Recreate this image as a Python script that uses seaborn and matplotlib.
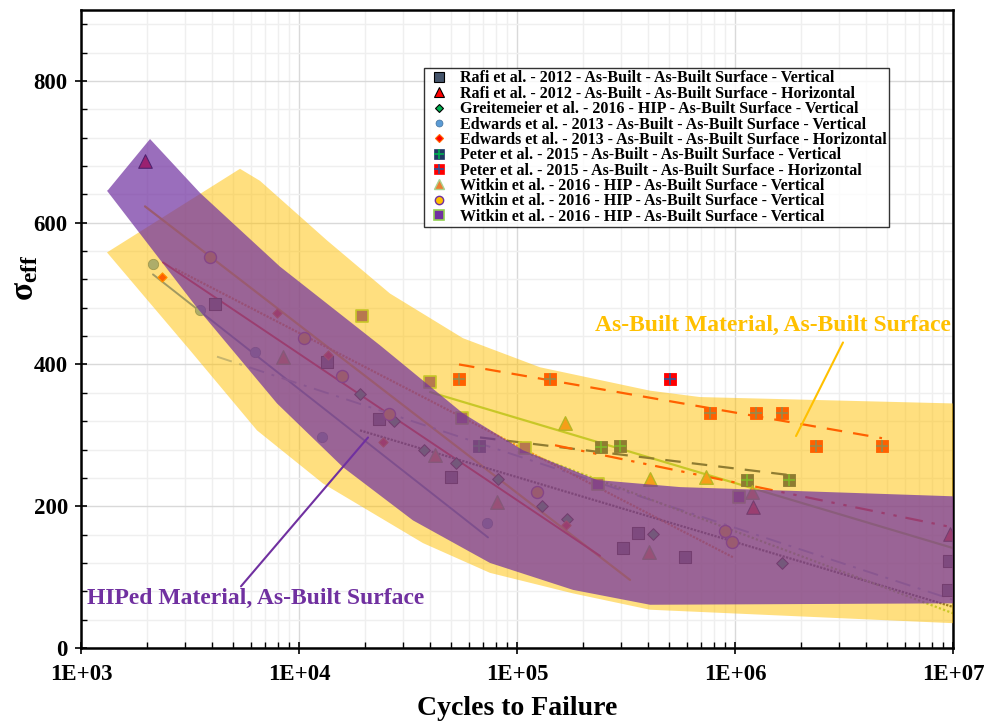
import numpy as np
import matplotlib
matplotlib.use('Agg')
import matplotlib.pyplot as plt
import seaborn as sns
from matplotlib.lines import Line2D
from matplotlib.legend_handler import HandlerTuple
from matplotlib.ticker import LogLocator, MultipleLocator, FuncFormatter, NullFormatter

# ---- data (cycles, effective stress) ----
rafi_v_n = [4120, 13440, 23280, 49800, 306400, 358900, 589700, 9590000, 9490000]
rafi_v_s = [485, 403, 323, 241, 141, 162, 128, 123, 82]
rafi_h_n = [1970, 1209000, 9690000]
rafi_h_s = [687, 199, 161]
greit_n = [19050, 27290, 37450, 52510, 81810, 130200, 169600, 420600, 1643000]
greit_s = [359, 320, 279, 261, 239, 200, 182, 161, 120]
edw_v_n = [2139, 3515, 6284, 12750, 72850]
edw_v_s = [541, 477, 417, 297, 176]
edw_h_n = [2353, 7928, 13590, 24290, 167900]
edw_h_s = [524, 473, 414, 290, 173]
peter_v_n = [66950, 242800, 296900, 1135000, 1769000]
peter_v_s = [285, 283, 285, 237, 237]
peter_h_n = [54190, 141700, 503300, 767800, 1248000, 1643000, 2353000, 4724000]
peter_h_s = [380, 380, 380, 332, 332, 332, 285, 285]
witk_t_n = [8446, 42060, 80970, 166100, 403200, 407500, 736200, 1197000]
witk_t_s = [411, 272, 206, 318, 135, 239, 241, 220]
witk_c_n = [3906, 10543, 15750, 25870, 123500, 899900, 968700]
witk_c_s = [551, 438, 383, 330, 220, 165, 149]
witk_s_n = [19450, 39900, 55940, 108800, 235300, 1043000]
witk_s_s = [469, 375, 325, 282, 231, 213]

# trend lines: (n_start, n_end), (s_start, s_end)
trend_witk_c = ([1966, 329900], [623, 96])
trend_red = ([2377, 240300], [544, 130])
trend_edw_v = ([2139, 73620], [527, 156])
trend_gray = ([19050, 1e7], [307, 58])
trend_blue_dd = ([4206, 1e7], [411, 68])
trend_green_dot = ([111200, 1e7], [275, 49])
trend_brown_dot = ([2699, 979000], [535, 128])
trend_green = ([39900, 1e7], [361, 141])
trend_peter_h = ([54190, 4724000], [400, 296])
trend_peter_v = ([67650, 1769000], [297, 244])
trend_rafi_h = ([149400, 1e7], [286, 170])

# scatter bands (outline: upper edge left->right, then lower edge right->left)
asbuilt_band_n = [1316, 5362, 6624, 13440, 26150, 56530, 127500, 407500, 690900, 1e7,
                  1e7, 407500, 180700, 75170, 37050, 12890, 6416, 3162, 1316]
asbuilt_band_s = [558, 676, 659, 575, 500, 437, 396, 363, 354, 345,
                  35, 54, 77, 106, 148, 232, 307, 420, 558]
hip_band_n = [1330, 2073, 3515, 8180, 23530, 56530, 106500, 232800, 559400, 1e7,
              1e7, 407500, 180700, 75170, 33340, 15920, 7928, 3405, 1316]
hip_band_s = [646, 718, 642, 538, 427, 331, 279, 237, 227, 214,
              63, 61, 82, 120, 180, 255, 345, 480, 645]

legend_labels = [
    'Rafi et al. - 2012 - As-Built - As-Built Surface - Vertical',
    'Rafi et al. - 2012 - As-Built - As-Built Surface - Horizontal',
    'Greitemeier et al. - 2016 - HIP - As-Built Surface - Vertical',
    'Edwards et al. - 2013 - As-Built - As-Built Surface - Vertical',
    'Edwards et al. - 2013 - As-Built - As-Built Surface - Horizontal',
    'Peter et al. - 2015 - As-Built - As-Built Surface - Vertical',
    'Peter et al. - 2015 - As-Built - As-Built Surface - Horizontal',
    'Witkin et al. - 2016 - HIP - As-Built Surface - Vertical',
    'Witkin et al. - 2016 - HIP - As-Built Surface - Vertical',
    'Witkin et al. - 2016 - HIP - As-Built Surface - Vertical',
]

sns.set_theme(style='white')
plt.rcParams['font.family'] = ['Liberation Serif', 'DejaVu Serif']
plt.rcParams['font.weight'] = 'bold'
plt.rcParams['mathtext.default'] = 'regular'
for key in ['text.color', 'axes.labelcolor', 'xtick.color', 'ytick.color']:
    plt.rcParams[key] = 'black'

fig = plt.figure(figsize=(9.85, 7.21), dpi=100)
ax = fig.add_axes([81/985, 1 - 648/721, 872/985, 638/721])

YELLOW = '#FFC000'
PURPLE = '#7030A0'

# ---- trend lines (drawn under the bands) ----
ax.plot(*trend_witk_c, color=YELLOW, lw=1.6, zorder=1)
ax.plot(*trend_red, color='#FF0000', lw=1.4, zorder=1)
ax.plot(*trend_edw_v, color='#4472C4', lw=1.4, zorder=1)
ax.plot(*trend_gray, color='#404040', lw=1.6, ls=(0, (1, 0.6)), zorder=1)
ax.plot(*trend_blue_dd, color='#8FAADC', lw=1.4, ls=(0, (8, 4, 1.5, 4)), zorder=1)
ax.plot(*trend_green_dot, color='#92D050', lw=1.6, ls=(0, (1, 1)), zorder=1)
ax.plot(*trend_brown_dot, color='#ED7D31', lw=1.6, ls=(0, (1, 0.6)), zorder=1)
ax.plot(*trend_green, color='#92D050', lw=1.6, zorder=1)
ax.plot(*trend_peter_h, color='#FF0000', lw=1.6, ls=(0, (7, 5)), zorder=1)
ax.plot(*trend_peter_v, color='#203864', lw=1.6, ls=(0, (7, 5)), zorder=1)
ax.plot(*trend_rafi_h, color='#FF0000', lw=1.6, ls=(0, (8, 4, 1.5, 4, 1.5, 4)), zorder=1)

# ---- data points ----
def pts(n, sig, **kw):
    sns.scatterplot(x=n, y=sig, ax=ax, zorder=2, legend=False, **kw)

pts(rafi_v_n, rafi_v_s, marker='s', s=80, color='#44546A', edgecolor='black', linewidth=0.8)
pts(rafi_h_n, rafi_h_s, marker='^', s=95, color='#FF0000', edgecolor='black', linewidth=0.8)
pts(greit_n, greit_s, marker='D', s=35, color='#00B050', edgecolor='black', linewidth=0.8)
pts(edw_v_n, edw_v_s, marker='o', s=55, color='#5B9BD5', edgecolor='#41719C', linewidth=0.6)
pts(edw_h_n, edw_h_s, marker='D', s=22, color='#FF0000', edgecolor='#FF6600', linewidth=0.8)
pts(peter_v_n, peter_v_s, marker='s', s=85, color='#203864', edgecolor='#203864', linewidth=0.6)
pts(peter_v_n, peter_v_s, marker='+', s=85, color='#00B050', linewidth=1.2)
pts(peter_h_n, peter_h_s, marker='s', s=85, color='#FF0000', edgecolor='#FF0000', linewidth=0.6)
pts(peter_h_n, peter_h_s, marker='+', s=85, color='#2F5597', linewidth=1.2)
pts(witk_t_n, witk_t_s, marker='^', s=95, color='#ED7D31', edgecolor='#70AD47', linewidth=1.0)
pts(witk_c_n, witk_c_s, marker='o', s=75, color=YELLOW, edgecolor=PURPLE, linewidth=1.0)
pts(witk_s_n, witk_s_s, marker='s', s=85, color=PURPLE, edgecolor='#92D050', linewidth=1.2)

# ---- scatter bands ----
ax.fill(asbuilt_band_n, asbuilt_band_s, color=YELLOW, alpha=0.5, lw=0, zorder=3)
ax.fill(hip_band_n, hip_band_s, color=PURPLE, alpha=0.7, lw=0, zorder=4)

# ---- labels with leader lines ----
ax.plot([3129000, 1905000], [431, 299], color=YELLOW, lw=1.5, zorder=5)
ax.text(227900, 455, 'As-Built Material, As-Built Surface', color=YELLOW,
        fontsize=17, fontweight='bold', va='center', ha='left', zorder=6)
ax.plot([5418, 20730], [87, 297], color=PURPLE, lw=1.5, zorder=5)
ax.text(1065, 70, 'HIPed Material, As-Built Surface', color=PURPLE,
        fontsize=17, fontweight='bold', va='center', ha='left', zorder=6)

# ---- axes ----
ax.set_xscale('log')
ax.set_xlim(1e3, 1e7)
ax.set_ylim(0, 900)
ax.xaxis.set_major_locator(LogLocator(base=10, numticks=10))
ax.xaxis.set_minor_locator(LogLocator(base=10, subs=np.arange(2, 10), numticks=20))
ax.xaxis.set_minor_formatter(NullFormatter())
ax.xaxis.set_major_formatter(FuncFormatter(lambda v, p: '1E+%02d' % round(np.log10(v))))
ax.yaxis.set_major_locator(MultipleLocator(200))
ax.yaxis.set_minor_locator(MultipleLocator(40))

ax.set_axisbelow(True)
ax.grid(which='major', color='#d9d9d9', lw=1.0)
ax.grid(which='minor', color='#efefef', lw=1.0)
ax.tick_params(which='major', direction='inout', length=9, width=1.2, labelsize=16.5,
               bottom=True, left=True)
ax.tick_params(axis='x', which='major', pad=7)
ax.tick_params(axis='y', which='major', pad=5)
ax.tick_params(which='minor', direction='in', length=4.5, width=1.0, bottom=True, left=True)
for lab in ax.get_xticklabels() + ax.get_yticklabels():
    lab.set_fontweight('bold')
for sp in ax.spines.values():
    sp.set_color('black')
    sp.set_linewidth(1.8)

ax.set_xlabel('Cycles to Failure', fontsize=20, fontweight='bold', labelpad=8)
ax.set_ylabel(r'σ$_{eff}$', fontsize=24, fontweight='bold')
ax.yaxis.set_label_coords(-0.047, 0.58)

# ---- legend ----
def mk(marker, fc, ec, ms, mew=0.8):
    return Line2D([], [], ls='none', marker=marker, markerfacecolor=fc,
                  markeredgecolor=ec, markersize=ms, markeredgewidth=mew)

handles = [
    mk('s', '#44546A', 'black', 6.5),
    mk('^', '#FF0000', 'black', 7),
    mk('D', '#00B050', 'black', 4.5),
    mk('o', '#5B9BD5', '#41719C', 5, 0.5),
    mk('D', '#FF0000', '#FF6600', 4),
    (mk('s', '#203864', '#203864', 7, 0.5), mk('+', '#00B050', '#00B050', 7, 1.2)),
    (mk('s', '#FF0000', '#FF0000', 7, 0.5), mk('+', '#2F5597', '#2F5597', 7, 1.2)),
    mk('^', '#ED7D31', '#A9D18E', 7, 1.0),
    mk('o', YELLOW, PURPLE, 6, 1.0),
    mk('s', PURPLE, '#92D050', 6.5, 1.2),
]
leg = ax.legend(handles, legend_labels, loc='upper left', bbox_to_anchor=(0.393, 0.909),
                borderaxespad=0, labelspacing=-0.04, handlelength=1.6,
                handletextpad=0.5, borderpad=0.15, frameon=True, fancybox=False,
                handler_map={tuple: HandlerTuple(ndivide=1, pad=0)},
                prop={'weight': 'bold', 'size': 11.5})
leg.get_frame().set_edgecolor('black')
leg.get_frame().set_linewidth(1.0)
leg.set_zorder(10)

fig.savefig('out.png', dpi=100)
